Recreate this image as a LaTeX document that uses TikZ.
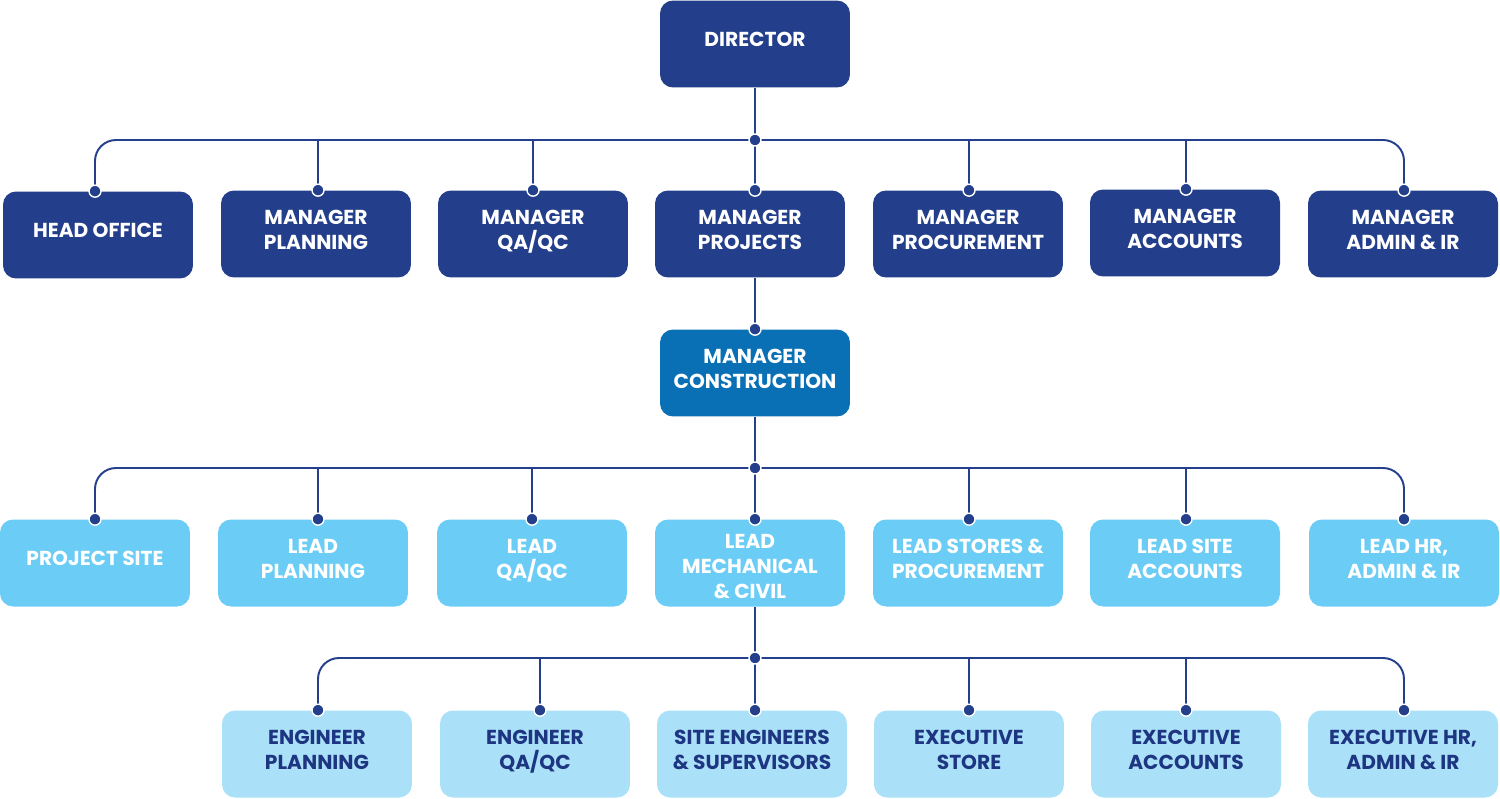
\documentclass[tikz,border=0pt]{standalone}
\usepackage{fontspec}
\setmainfont{Poppins}[BoldFont={* Bold}]
\definecolor{dblue}{HTML}{233E8B}
\definecolor{mblue}{HTML}{0A70B6}
\definecolor{lblue}{HTML}{6BCDF5}
\definecolor{xblue}{HTML}{AAE1F8}
\definecolor{tblue}{HTML}{1E3582}
\definecolor{lineblue}{HTML}{243F8C}
\tikzset{
  boxfont/.style={font=\fontsize{11.5}{14.2}\selectfont\bfseries},
  box/.style={rounded corners=0.26cm, minimum width=3.8cm, minimum height=1.74cm, inner sep=0pt, align=center,
    text depth=0.18cm, boxfont},
  lvA/.style={box, fill=dblue, text=white},
  lvB/.style={box, fill=mblue, text=white},
  lvC/.style={box, fill=lblue, text=white},
  lvD/.style={box, fill=xblue, text=tblue},
  conn/.style={draw=lineblue, line width=1.1pt},
  bus/.style={conn, rounded corners=0.42cm},
  dot/.style={circle, fill=lineblue, draw=white, line width=0.8pt, minimum size=0.24cm, inner sep=0pt},
}
\begin{document}
\begin{tikzpicture}[x=0.02cm, y=-0.02cm]
\useasboundingbox (0,0) rectangle (1500,798);
% level 0
\node[lvA] (dir) at (755,44) {DIRECTOR};
% level 1
\node[lvA] (ho) at (98,235) {HEAD OFFICE};
\node[lvA] (mpl) at (316,234) {MANAGER\\PLANNING};
\node[lvA] (mqa) at (533,234) {MANAGER\\QA/QC};
\node[lvA] (mpr) at (750,234) {MANAGER\\PROJECTS};
\node[lvA] (mpc) at (968,234) {MANAGER\\PROCUREMENT};
\node[lvA] (mac) at (1185,233) {MANAGER\\ACCOUNTS};
\node[lvA] (mad) at (1403,234) {MANAGER\\ADMIN \& IR};
% level 2
\node[lvB] (mco) at (755,373) {MANAGER\\CONSTRUCTION};
% level 3
\node[lvC] (ps) at (95,563) {PROJECT SITE};
\node[lvC] (lpl) at (313,563) {LEAD\\PLANNING};
\node[lvC] (lqa) at (532,563) {LEAD\\QA/QC};
\node[lvC, label={[boxfont, text=white, align=center, inner sep=0pt, text depth=0pt, yshift=-0.06cm]center:{LEAD\\MECHANICAL\\\& CIVIL}}] (lmc) at (750,563) {};
\node[lvC] (lst) at (968,563) {LEAD STORES \&\\PROCUREMENT};
\node[lvC] (lac) at (1185,563) {LEAD SITE\\ACCOUNTS};
\node[lvC] (lhr) at (1404,563) {LEAD HR,\\ADMIN \& IR};
% level 4
\node[lvD] (epl) at (317,754) {ENGINEER\\PLANNING};
\node[lvD] (eqa) at (535,754) {ENGINEER\\QA/QC};
\node[lvD] (ses) at (752,754) {SITE ENGINEERS\\\& SUPERVISORS};
\node[lvD] (est) at (969,754) {EXECUTIVE\\STORE};
\node[lvD] (eac) at (1186,754) {EXECUTIVE\\ACCOUNTS};
\node[lvD] (ehr) at (1403,754) {EXECUTIVE HR,\\ADMIN \& IR};
% bus coordinates
\coordinate (b1) at (755,140);
\coordinate (b2) at (755,468);
\coordinate (b3) at (755,658);
% bus 1
\draw[conn] (dir.south) -- (b1);
\draw[bus] ([xshift=-0.06cm]ho.north) |- (b1) -| ([xshift=0.02cm]mad.north);
\foreach \n/\dx in {mpl/2,mqa/0,mpc/1,mac/1}{\draw[conn] ([xshift=\dx*0.02cm]\n.north) -- ([xshift=\dx*0.02cm]\n.north |- b1);}
\draw[conn] (b1) -- (b1 |- mpr.north);
% projects to construction
\draw[conn] (b1 |- mpr.south) -- (b1 |- mco.north);
% bus 2
\draw[conn] (mco.south) -- (b2);
\draw[bus] (ps.north) |- (b2) -| (lhr.north);
\foreach \n/\dx in {lpl/5,lqa/0,lst/1,lac/1}{\draw[conn] ([xshift=\dx*0.02cm]\n.north) -- ([xshift=\dx*0.02cm]\n.north |- b2);}
\draw[conn] (b2) -- (b2 |- lmc.north);
% bus 3
\draw[conn] (b2 |- lmc.south) -- (b3);
\draw[bus] ([xshift=0.02cm]epl.north) |- (b3) -| ([xshift=0.02cm]ehr.north);
\foreach \n/\dx in {eqa/5,est/0,eac/0}{\draw[conn] ([xshift=\dx*0.02cm]\n.north) -- ([xshift=\dx*0.02cm]\n.north |- b3);}
\draw[conn] (b3) -- (b3 |- ses.north);
% dots
\node[dot] at (b1) {};
\node[dot] at (b2) {};
\node[dot] at (b3) {};
\node[dot] at ([xshift=-0.06cm]ho.north) {};
\node[dot] at ([xshift=0.04cm]mpl.north) {};
\node[dot] at (mqa.north) {};
\node[dot] at (b1 |- mpr.north) {};
\node[dot] at ([xshift=0.02cm]mpc.north) {};
\node[dot] at ([xshift=0.02cm]mac.north) {};
\node[dot] at ([xshift=0.02cm]mad.north) {};
\node[dot] at (b1 |- mco.north) {};
\node[dot] at (ps.north) {};
\node[dot] at ([xshift=0.1cm]lpl.north) {};
\node[dot] at (lqa.north) {};
\node[dot] at (b2 |- lmc.north) {};
\node[dot] at ([xshift=0.02cm]lst.north) {};
\node[dot] at ([xshift=0.02cm]lac.north) {};
\node[dot] at (lhr.north) {};
\node[dot] at ([xshift=0.02cm]epl.north) {};
\node[dot] at ([xshift=0.1cm]eqa.north) {};
\node[dot] at (b3 |- ses.north) {};
\node[dot] at (est.north) {};
\node[dot] at (eac.north) {};
\node[dot] at ([xshift=0.02cm]ehr.north) {};
\end{tikzpicture}
\end{document}
